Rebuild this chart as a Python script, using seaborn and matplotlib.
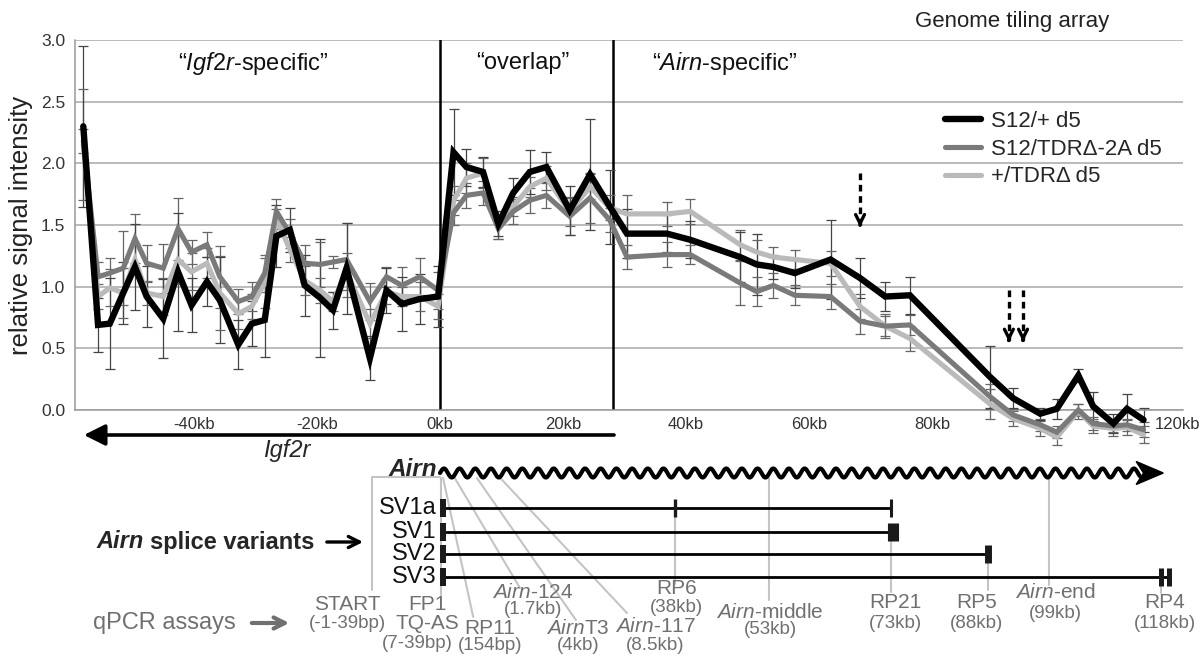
import numpy as np
import pandas as pd
import matplotlib
matplotlib.use("Agg")
import matplotlib.pyplot as plt
from matplotlib.lines import Line2D
import seaborn as sns

# probe positions (kb relative to Airn start)
kb_pos = [-58.0, -55.6, -53.7, -51.5, -49.6, -47.7, -45.0, -42.6, -40.4, -37.9,
          -35.8, -32.8, -30.6, -28.5, -26.6, -24.4, -22.0, -19.5, -17.4, -15.2,
          -11.4, -8.7, -6.2, -3.3, -0.3,
          2.2, 4.3, 7.0, 9.5, 11.9, 14.6, 17.3, 21.1, 24.4, 27.6,
          30.4, 36.9, 40.7, 48.8, 51.5, 54.2, 57.7, 63.5, 68.3, 72.4,
          76.4, 89.4, 93.2, 97.6, 100.3, 103.8, 106.2, 109.5, 111.7, 114.4]

s12_wt = [2.30, 0.69, 0.70, 0.95, 1.16, 0.92, 0.74, 1.12, 0.85, 1.04,
          0.89, 0.53, 0.70, 0.73, 1.41, 1.46, 1.01, 0.91, 0.81, 1.15,
          0.42, 0.97, 0.86, 0.90, 0.92,
          2.09, 1.97, 1.93, 1.51, 1.76, 1.93, 1.97, 1.62, 1.91, 1.65,
          1.43, 1.43, 1.38, 1.24, 1.18, 1.16, 1.11, 1.22, 1.07, 0.92,
          0.93, 0.27, 0.095, -0.03, 0.01, 0.28, 0.03, -0.11, 0.01, -0.08]

s12_tdr = [2.18, 1.08, 1.11, 1.15, 1.39, 1.19, 1.15, 1.47, 1.28, 1.34,
           1.08, 0.88, 0.92, 1.11, 1.61, 1.43, 1.19, 1.18, 1.20, 1.22,
           0.88, 1.08, 1.01, 1.08, 0.97,
           1.60, 1.74, 1.76, 1.47, 1.61, 1.70, 1.74, 1.57, 1.72, 1.54,
           1.24, 1.26, 1.26, 1.03, 0.96, 1.01, 0.93, 0.92, 0.72, 0.68,
           0.69, 0.11, -0.04, -0.12, -0.18, 0.00, -0.11, -0.13, -0.12, -0.16]

wt_tdr = [2.15, 0.92, 0.99, 0.95, 1.22, 0.95, 0.92, 1.22, 1.12, 1.19,
          0.95, 0.78, 0.84, 1.03, 1.55, 1.30, 1.05, 0.97, 0.88, 1.12,
          0.70, 0.96, 0.92, 0.92, 0.84,
          1.70, 1.88, 1.92, 1.49, 1.65, 1.81, 1.88, 1.61, 1.81, 1.64,
          1.59, 1.59, 1.61, 1.34, 1.28, 1.24, 1.22, 1.19, 0.84, 0.68,
          0.58, 0.05, -0.07, -0.15, -0.22, -0.01, -0.13, -0.15, -0.14, -0.20]

err_s12_wt = [0.65, 0.22, 0.37, 0.25, 0.35, 0.25, 0.32, 0.48, 0.22, 0.20,
              0.35, 0.20, 0.18, 0.30, 0.25, 0.18, 0.25, 0.48, 0.15, 0.37,
              0.18, 0.18, 0.22, 0.20, 0.25,
              0.35, 0.15, 0.12, 0.10, 0.12, 0.18, 0.12, 0.20, 0.45, 0.30,
              0.20, 0.15, 0.15, 0.20, 0.25, 0.10, 0.12, 0.32, 0.16, 0.12,
              0.15, 0.25, 0.08, 0.05, 0.08, 0.05, 0.12, 0.08, 0.12, 0.10]
err_s12_tdr = [0.10, 0.12, 0.12, 0.30, 0.20, 0.15, 0.20, 0.25, 0.10, 0.10,
               0.25, 0.10, 0.12, 0.15, 0.10, 0.12, 0.15, 0.18, 0.05, 0.30,
               0.15, 0.08, 0.15, 0.15, 0.15,
               0.10, 0.10, 0.10, 0.08, 0.10, 0.10, 0.10, 0.15, 0.20, 0.10,
               0.10, 0.10, 0.08, 0.18, 0.12, 0.10, 0.08, 0.10, 0.10, 0.08,
               0.08, 0.10, 0.05, 0.05, 0.05, 0.05, 0.05, 0.05, 0.05, 0.06]
err_wt_tdr = [0.45, 0.10, 0.15, 0.20, 0.12, 0.10, 0.15, 0.20, 0.15, 0.12,
              0.30, 0.12, 0.10, 0.20, 0.08, 0.10, 0.12, 0.10, 0.08, 0.15,
              0.12, 0.10, 0.08, 0.12, 0.10,
              0.12, 0.12, 0.12, 0.10, 0.08, 0.08, 0.10, 0.12, 0.10, 0.10,
              0.15, 0.10, 0.10, 0.12, 0.10, 0.08, 0.08, 0.10, 0.10, 0.10,
              0.10, 0.12, 0.06, 0.06, 0.06, 0.06, 0.06, 0.06, 0.06, 0.07]

series_names = ["S12/+ d5", "S12/TDR\u0394-2A d5", "+/TDR\u0394 d5"]
series_colors = ["#000000", "#7a7a7a", "#bababa"]
series_widths = [4.6, 3.7, 3.7]

x_ticks = [-40, -20, 0, 20, 40, 60, 80, 120]
x_tick_labels = ["-40kb", "-20kb", "0kb", "20kb", "40kb", "60kb", "80kb", "120kb"]
y_ticks = [0.0, 0.5, 1.0, 1.5, 2.0, 2.5, 3.0]

region_bounds = [0.0, 28.1]
region_titles = ["\u201c$\\mathit{Igf2r}$-specific\u201d", "\u201coverlap\u201d",
                 "\u201c$\\mathit{Airn}$-specific\u201d"]
region_title_x = [-30.4, 13.5, 46.3]

# dashed arrows marking splice sites: (kb, from, to)
dashed_arrows = [(68.3, 1.92, 1.46), (92.5, 0.97, 0.53), (94.8, 0.97, 0.53)]

# splice variants
sv_names = ["SV1a", "SV1", "SV2", "SV3"]
sv_end_kb = [73.3, 73.3, 89.1, 118.6]
sv_exons_kb = [[0.5, 38.2, 73.3], [0.5, 73.6], [0.5, 89.1], [0.5, 117.3, 118.6]]
sv_exon_lw = [[4.3, 2.4, 2.2], [4.3, 8.0], [4.3, 5.0], [4.3, 3.6, 3.6]]

# qPCR assays: name, location, label x (kb)
qpcr_names = ["START", "FP1\nTQ-AS", "RP11", "$\\mathit{Airn}$-124", "$\\mathit{Airn}$T3",
              "$\\mathit{Airn}$-117", "RP6", "$\\mathit{Airn}$-middle", "RP21", "RP5",
              "$\\mathit{Airn}$-end", "RP4"]
qpcr_sub = ["(-1-39bp)", "(7-39bp)", "(154bp)", "(1.7kb)", "(4kb)", "(8.5kb)", "(38kb)",
            "(53kb)", "(73kb)", "(88kb)", "(99kb)", "(118kb)"]
qpcr_label_kb = [-15.1, -2.1, 8.1, 15.1, 22.4, 35.0, 38.5, 53.7, 74.0, 87.3, 100.0, 117.9]

sns.set_style("white")
plt.rcParams["font.family"] = ["Liberation Sans", "DejaVu Sans"]
plt.rcParams["mathtext.fontset"] = "custom"
plt.rcParams["mathtext.rm"] = "Liberation Sans"
plt.rcParams["mathtext.it"] = "Liberation Sans:italic"
plt.rcParams["mathtext.bf"] = "Liberation Sans:bold"

W, H = 1203, 655
fig = plt.figure(figsize=(W / 100, H / 100), dpi=100)
L, R, T, B = 75, 1183, 40, 410
xlim = ((L - 440) / 6.15, (R - 440) / 6.15)

ax = fig.add_axes([L / W, 1 - B / H, (R - L) / W, (B - T) / H])

df = pd.DataFrame({
    "kb": kb_pos * 3,
    "signal": s12_wt + s12_tdr + wt_tdr,
    "sample": [n for n in series_names for _ in kb_pos],
})

# errorbars first, under the lines
for vals, err, col in [(wt_tdr, err_wt_tdr, "#666666"), (s12_tdr, err_s12_tdr, "#666666"),
                       (s12_wt, err_s12_wt, "#444444")]:
    eb = ax.errorbar(kb_pos, vals, yerr=err, fmt="none", ecolor=col, elinewidth=0.9,
                     capsize=3.5, capthick=0.9, zorder=2.2)
    for art in list(eb.lines[1]) + list(eb.lines[2]):
        art.set_clip_on(False)

sns.lineplot(data=df, x="kb", y="signal", hue="sample", size="sample",
             hue_order=series_names[::-1],
             palette=dict(zip(series_names, series_colors)),
             sizes=dict(zip(series_names, series_widths)),
             estimator=None, sort=False, legend=False, ax=ax)
for i, ln in enumerate(ax.lines):
    ln.set_clip_on(False)
    ln.set_zorder(2.5 + i * 0.1)
    ln.set_solid_joinstyle("miter")

ax.set_xlim(*xlim)
ax.set_ylim(0, 3.0)
ax.set_yticks(y_ticks)
ax.set_yticklabels([f"{v:.1f}" for v in y_ticks])
ax.set_xticks(x_ticks)
ax.set_xticklabels(x_tick_labels)
ax.yaxis.grid(True, color="#a8a8a8", lw=1.1)
ax.set_axisbelow(True)
for s in ["top", "right"]:
    ax.spines[s].set_visible(False)
for s in ["left", "bottom"]:
    ax.spines[s].set_color("#9a9a9a")
    ax.spines[s].set_linewidth(1.1)
ax.tick_params(axis="y", direction="out", length=5, color="#9a9a9a", labelsize=12.5,
               labelcolor="#333333", pad=2)
ax.tick_params(axis="x", direction="in", length=4, color="#9a9a9a", labelsize=12,
               labelcolor="#333333", pad=5)
ax.set_xlabel("")
ax.set_ylabel("relative signal intensity", fontsize=18.5, color="#222222", labelpad=6)

for xb in region_bounds:
    ax.plot([xb, xb], [0, 3.0], color="black", lw=1.8, zorder=2)
for title, xt in zip(region_titles, region_title_x):
    ax.text(xt, 2.81, title, fontsize=17, ha="center", va="center", color="#111111")

for xa, y0, y1 in dashed_arrows:
    ax.plot([xa, xa], [y0, y1 + 0.04], color="black", lw=2.4, ls=(0, (2.0, 1.4)), zorder=4)
    ax.annotate("", xy=(xa, y1), xytext=(xa, y1 + 0.06),
                arrowprops=dict(arrowstyle="->", color="black", lw=2.4, mutation_scale=16),
                zorder=4)

handles = [Line2D([0], [0], color=c, lw=w) for c, w in zip(series_colors, series_widths)]
ax.legend(handles, series_names, loc="upper left", bbox_to_anchor=((945 - L) / (R - L), 0.808),
          frameon=False, fontsize=16, handlelength=1.6, handletextpad=0.45,
          labelspacing=0.3, borderpad=0, borderaxespad=0)

fig.text(1012 / W, 1 - 22 / H, "Genome tiling array", fontsize=16, ha="center",
         va="center", color="#222222")

# gene / splice variant diagram below the plot
ax2 = fig.add_axes([L / W, 0, (R - L) / W, (H - B) / H])
ax2.set_xlim(*xlim)
ax2.set_ylim(H, B)
ax2.axis("off")

gray_txt = "#707070"
conn = "#c4c4c4"

# Igf2r arrow
ax2.annotate("", xy=(-57.9, 435), xytext=(28.3, 435),
             arrowprops=dict(arrowstyle="-|>", color="black", lw=2.6, mutation_scale=32,
                             shrinkA=0, shrinkB=0), annotation_clip=False)
ax2.text(-24.9, 450, "Igf2r", fontsize=17, style="italic", ha="center", va="center")

# Airn transcript (wavy) with arrowhead
wave_x = np.linspace(0, 113.8, 1200)
ax2.plot(wave_x, 473 + 4.5 * np.sin(2 * np.pi * wave_x / 2.55 + np.pi), color="black",
         lw=3.0, clip_on=False, zorder=3)
ax2.fill([113.2, 117.6, 113.2, 114.4], [461.5, 473, 484.5, 473], color="black",
         clip_on=False, zorder=3)
ax2.text(-0.5, 469, "Airn", fontsize=17.5, style="italic", weight="bold", ha="right", va="center")

# connectors from qPCR labels
ax2.plot([-11.1, -11.1, 0.0], [590, 477, 477], color=conn, lw=1.5, zorder=1)
conn_lines = [((0.1, 478), (0.1, 595)), ((0.5, 478), (5.4, 617)), ((2.4, 478), (13.0, 588)),
              ((6.0, 478), (22.1, 620)), ((9.8, 478), (30.4, 613)), ((38.2, 517), (38.2, 584)),
              ((53.5, 478), (53.5, 600)), ((73.3, 540), (73.3, 592)), ((89.1, 563), (89.1, 590)),
              ((99.0, 478), (99.0, 585)), ((117.3, 587), (117.3, 593))]
for (xa, ya), (xb, yb) in conn_lines:
    ax2.plot([xa, xb], [ya, yb], color=conn, lw=1.5, zorder=1)

sv_y = [508, 532, 554, 577]
for name, yv, xend, exons, lws in zip(sv_names, sv_y, sv_end_kb, sv_exons_kb, sv_exon_lw):
    ax2.plot([0, xend], [yv, yv], color="black", lw=2.0, zorder=3, solid_capstyle="butt")
    for ex, lw in zip(exons, lws):
        ax2.plot([ex, ex], [yv - 9, yv + 9], color="#1a1a1a", lw=lw, zorder=3,
                 solid_capstyle="butt")
    ax2.text(-0.5, yv, name, fontsize=17, ha="right", va="center", color="#111111")

ax2.text(-55.8, 542, "Airn", fontsize=17, style="italic", weight="bold", ha="left", va="center")
ax2.text(-47.2, 542, "splice variants", fontsize=17, weight="bold", ha="left", va="center")
ax2.annotate("", xy=(-12.5, 542), xytext=(-18.4, 542),
             arrowprops=dict(arrowstyle="->", color="black", lw=2.4, mutation_scale=20,
                             shrinkA=0, shrinkB=0))

ax2.text(-56.4, 623, "qPCR assays", fontsize=17, ha="left", va="center", color=gray_txt)
ax2.annotate("", xy=(-24.5, 623), xytext=(-30.6, 623),
             arrowprops=dict(arrowstyle="->", color=gray_txt, lw=3.0, mutation_scale=20,
                             shrinkA=0, shrinkB=0))

name_y = [605, 614, 629, 592, 628, 627, 588, 612, 603, 603, 593, 603]
sub_y = [623, 644, 645, 609, 645, 645, 607, 630, 623, 623, 613, 623]
for nm, sb, xl, yn, ys in zip(qpcr_names, qpcr_sub, qpcr_label_kb, name_y, sub_y):
    ax2.text(xl, yn, nm, fontsize=15, ha="center", va="center", color=gray_txt,
             linespacing=0.95)
    ax2.text(xl if sb != "(7-39bp)" else xl - 1.6, ys, sb, fontsize=13.5, ha="center",
             va="center", color=gray_txt)

fig.savefig("out.png", dpi=100)
